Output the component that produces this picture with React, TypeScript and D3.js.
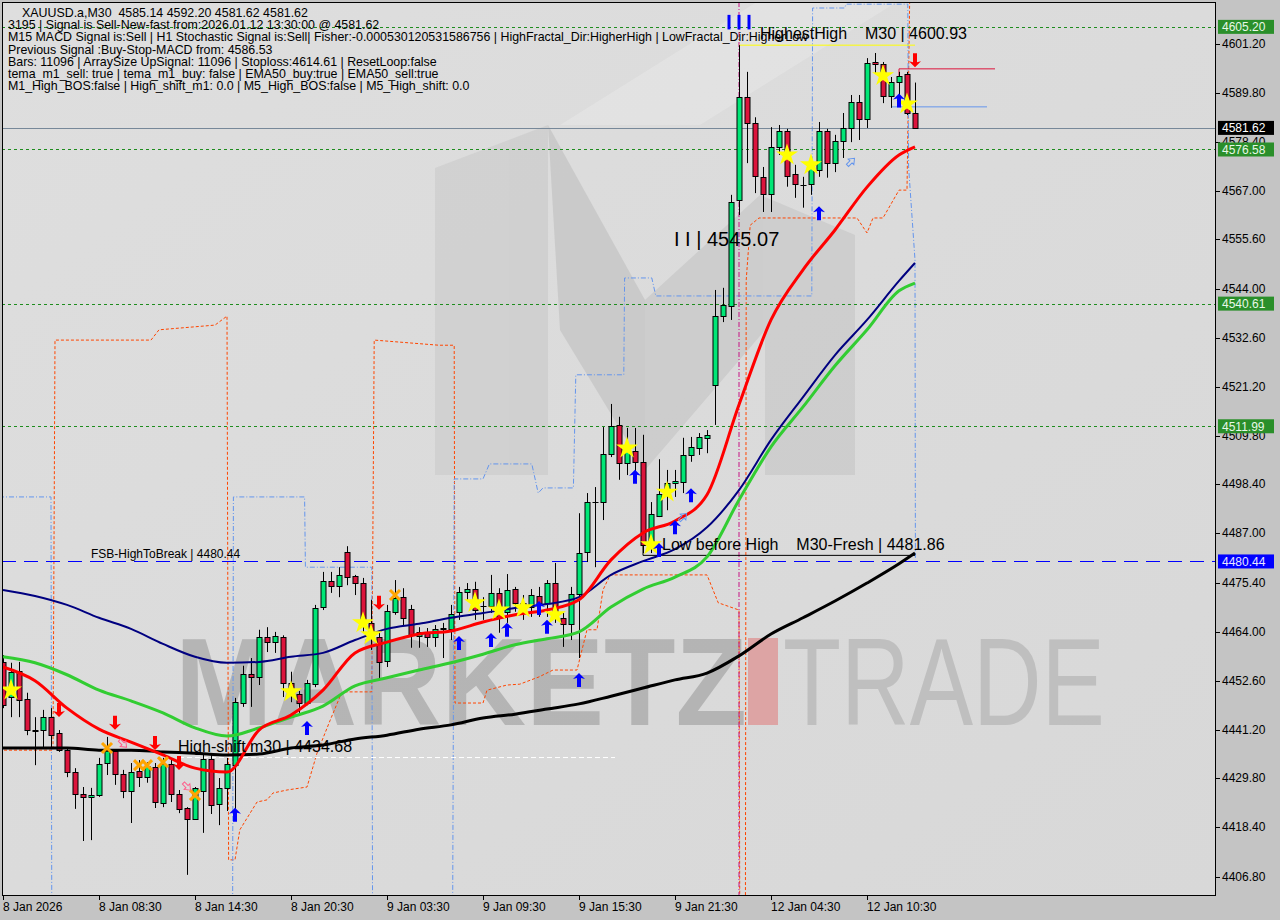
import React from 'react';
import * as d3 from 'd3';

const FONT = "'Liberation Sans', Arial, sans-serif";

// ---------- DATA ----------
const openP = [4457.0,4448.8,4454.9,4448.4,4441.1,4441.1,4444.1,4440.4,4436.4,4431.3,4426.2,4425.5,4425.9,4433.4,4436.2,4430.8,4426.9,4431.5,4430.1,4432.5,4424.1,4433.2,4426.2,4422.9,4420.3,4426.9,4434.3,4423.8,4427.6,4432.9,4447.4,4454.2,4453.5,4462.8,4461.6,4462.8,4452.1,4449.5,4447.4,4451.8,4469.8,4475.9,4474.7,4482.6,4477.0,4475.4,4466.1,4462.8,4457.2,4468.7,4472.1,4469.3,4463.1,4464.0,4462.8,4464.7,4464.7,4468.7,4473.3,4474.0,4470.0,4470.0,4473.1,4468.7,4474.0,4469.1,4469.8,4472.4,4470.7,4475.4,4467.2,4465.9,4472.8,4482.6,4494.3,4494.3,4505.5,4512.3,4503.4,4506.2,4503.7,4484.3,4491.0,4495.9,4498.7,4499.0,4505.3,4507.0,4509.3,4521.6,4537.7,4540.1,4564.8,4588.8,4582.8,4570.2,4566.2,4577.2,4580.9,4570.9,4568.3,4568.5,4571.8,4580.9,4573.4,4578.6,4581.6,4587.7,4583.7,4597.0,4596.5,4589.1,4592.3,4594.2,4585.14];
const highP = [4458.6,4456.8,4457.0,4449.8,4444.1,4445.8,4446.2,4441.1,4437.1,4432.2,4427.8,4427.6,4434.6,4439.5,4436.4,4431.8,4433.4,4434.1,4433.6,4433.4,4434.6,4434.1,4427.1,4423.1,4427.8,4435.3,4435.3,4429.9,4434.6,4448.6,4456.1,4457.9,4464.5,4465.1,4464.0,4463.2,4454.7,4450.2,4452.8,4470.3,4478.0,4478.0,4479.1,4484.0,4477.3,4476.6,4471.5,4463.8,4470.3,4476.1,4474.2,4470.3,4465.1,4464.9,4465.6,4466.1,4470.3,4474.5,4475.4,4475.7,4472.1,4477.3,4474.2,4477.5,4474.5,4472.6,4474.0,4474.5,4476.1,4480.1,4468.4,4474.5,4491.7,4496.4,4497.8,4511.8,4517.2,4514.2,4511.6,4511.6,4510.0,4494.3,4504.3,4501.8,4501.8,4509.3,4509.5,4510.4,4511.1,4543.8,4544.3,4566.0,4600.93,4594.7,4584.1,4572.5,4581.8,4582.3,4581.4,4573.0,4570.2,4574.8,4583.0,4581.4,4580.0,4585.1,4589.3,4589.3,4597.9,4599.1,4597.0,4593.5,4594.7,4594.7,4592.20];
const lowP = [4446.2,4444.1,4444.1,4439.9,4432.9,4436.9,4436.9,4436.0,4430.1,4422.7,4415.2,4415.4,4425.5,4430.6,4428.3,4425.2,4419.4,4427.8,4428.8,4422.9,4423.1,4424.3,4421.7,4407.3,4420.1,4417.1,4421.5,4418.9,4422.2,4422.0,4446.5,4446.5,4451.6,4459.3,4459.1,4448.8,4447.6,4445.1,4446.9,4451.1,4469.1,4473.1,4472.1,4474.9,4472.6,4464.0,4459.8,4452.8,4455.8,4468.0,4465.6,4460.3,4460.3,4460.5,4460.5,4457.9,4462.1,4466.8,4471.5,4466.8,4466.8,4468.4,4463.8,4466.1,4468.7,4466.8,4467.5,4467.5,4467.5,4466.1,4460.5,4462.1,4457.9,4480.3,4479.1,4490.1,4504.8,4499.5,4500.6,4501.3,4482.4,4482.4,4490.8,4492.4,4495.5,4496.4,4503.7,4505.3,4505.7,4512.3,4536.3,4536.8,4561.3,4573.4,4566.4,4562.0,4562.0,4575.3,4567.9,4565.3,4563.0,4566.0,4570.2,4570.0,4571.3,4574.6,4578.3,4578.8,4581.6,4594.4,4587.4,4586.3,4586.5,4584.6,4581.62];
const closeP = [4446.9,4454.7,4448.1,4441.1,4440.9,4444.1,4439.9,4436.4,4431.3,4426.2,4425.5,4425.9,4433.2,4436.4,4430.8,4426.9,4431.3,4430.1,4432.7,4424.3,4433.2,4426.2,4422.7,4420.3,4427.6,4434.3,4423.6,4427.6,4433.2,4447.6,4454.2,4453.5,4462.8,4461.6,4463.1,4452.1,4449.8,4447.4,4452.1,4469.6,4475.9,4474.7,4477.3,4476.8,4475.4,4466.1,4463.3,4457.0,4468.9,4471.9,4467.2,4463.3,4464.0,4462.8,4464.7,4464.9,4468.2,4473.3,4474.0,4469.1,4470.1,4473.1,4467.5,4473.8,4470.7,4470.7,4472.6,4470.7,4475.4,4467.5,4465.9,4472.8,4482.4,4494.3,4494.2,4505.5,4512.0,4503.4,4506.9,4503.7,4484.3,4491.5,4496.2,4498.7,4499.2,4505.3,4507.2,4509.5,4510.0,4537.7,4540.3,4564.3,4588.8,4582.8,4570.4,4566.2,4577.2,4580.9,4570.4,4568.5,4568.4,4573.0,4580.9,4573.4,4578.6,4581.6,4587.7,4583.7,4596.8,4596.5,4589.1,4592.3,4593.7,4585.2,4581.62];

// moving averages sampled at bar indices
const maIdx = [0,4,8,12,16,20,24,28,32,36,40,44,48,52,56,60,64,68,72,76,80,84,88,92,96,100,104,108,112,114];
const maRed = [4455.8,4452.6,4446.2,4441.3,4438.3,4435.3,4432.2,4431.3,4441.1,4444.6,4450.4,4459.1,4461.6,4463.5,4464.2,4466.3,4468.0,4469.1,4471.5,4480.8,4487.1,4489.9,4496.0,4517.0,4536.8,4548.5,4557.8,4567.8,4575.3,4577.2];
const maNavy = [4473.8,4472.4,4470.3,4467.3,4464.7,4461.2,4458.2,4456.8,4457.0,4458.2,4459.1,4462.1,4464.7,4465.9,4467.3,4468.4,4469.6,4470.5,4472.1,4477.3,4480.5,4483.3,4488.4,4497.1,4508.8,4518.8,4528.6,4536.8,4545.9,4550.1];
const maGreen = [4458.2,4456.8,4454.0,4450.4,4447.9,4445.1,4441.6,4439.7,4441.6,4444.1,4446.7,4451.4,4453.3,4455.1,4456.8,4458.8,4461.0,4462.4,4464.0,4469.8,4474.0,4476.8,4481.5,4494.8,4507.2,4516.5,4526.1,4534.5,4543.6,4545.4];
const maBlack = [4436.9,4436.9,4436.9,4436.4,4436.4,4436.0,4435.7,4435.3,4435.5,4436.9,4437.6,4439.0,4439.9,4441.3,4442.3,4443.9,4444.8,4446.0,4447.2,4449.0,4450.9,4452.8,4454.4,4458.4,4463.5,4467.3,4471.2,4475.4,4479.9,4482.4];

// channel step lines (bar index, price)
const orangeIdx = [-0.5,6.25,6.5,18.5,19.5,26.5,28,28.2,29,29.6,31.75,33,33.75,35.5,38,38.75,39.25,40.9,42.1,42.5,46.1,46.4,54.5,56.4,56.5,60,60.5,63,64.6,67,68.75,71.75,73,74.25,75,75.9,88,89.4,92,92.1,92.8,92.9,93.4,94.5,106.75,108,108.75,110,112,113,113.4];
const orangeVal = [4436.4,4436.4,4532.1,4532.1,4534.5,4535.6,4537.7,4410.8,4410.8,4417.8,4424.3,4424.8,4426.4,4427.1,4427.8,4432.5,4435.7,4443.4,4448.8,4450.0,4450.0,4532.1,4530.9,4530.9,4447.4,4447.4,4450.4,4451.6,4451.8,4453.5,4455.1,4455.1,4464.5,4464.5,4473.8,4477.3,4477.3,4470.8,4469.1,4395,4395,4546.1,4558.9,4560.6,4560.6,4557.1,4560.6,4560.6,4567.1,4567.1,4620];
const blueIdx = [-0.5,6.0,6.1,28.7,28.8,37.7,37.8,46.1,46.2,56.2,56.4,60.0,60.8,66.1,66.9,67.5,71.3,71.6,77.6,77.7,81.1,81.6,101.1,101.2,105.2,105.4,113.1,113.2,114,114.05];
const blueVal = [4495.5,4495.5,4395,4395,4495.5,4495.5,4479.1,4479.1,4395,4395,4499.7,4499.7,4503.2,4503.2,4496.4,4497.6,4497.6,4524.0,4524.0,4546.6,4546.6,4542.4,4542.4,4609.6,4609.6,4610.5,4610.5,4572.5,4550.8,4480.8];

// levels
const greenLevels = [4605.20, 4576.58, 4540.61, 4511.99];
const fsbLevel = 4480.44;
const bidPrice = 4581.62;
const highShift = 4434.68;
const lowBeforeHigh = 4481.86;
const highestHigh = 4600.93;
const lowLabel = 4545.07;
const prevSignal = 4586.53;
const redLevel = 4595.4;

// markers (bar index, price)
const starIdx = [1,36,45,46,59,62,65,69,78,81,83,98,101,110,113];
const starVal = [4450.4,4450.0,4466.1,4463.3,4470.8,4469.1,4469.6,4468.0,4506.9,4484.3,4496.6,4575.3,4573.0,4593.8,4587.2];
const upIdx = [29,38,57,61,63,67,68,72,79,82,84,86,102,112];
const upVal = [4421.3,4441.6,4461.4,4462.1,4464.5,4469.6,4465.2,4452.8,4500.2,4483.1,4488.4,4495.9,4561.7,4588.0];
const downIdx = [7,14,19,22,47,114];
const downVal = [4445.8,4442.8,4438.1,4433.4,4470.8,4597.4];
const crossIdx = [13,17,18,20,24,49];
const crossVal = [4436.9,4432.9,4432.9,4433.6,4425.9,4472.6];
const hollowDnIdx = [15,23];
const hollowDnVal = [4437.9,4427.9];
const hollowUpIdx = [85,106];
const hollowUpVal = [4490.8,4573.7];

const priceTicks = [4601.2,4589.8,4578.4,4567.0,4555.6,4544.0,4532.6,4521.2,4509.8,4498.4,4487.0,4475.4,4464.0,4452.6,4441.2,4429.8,4418.4,4406.8];
const timeLabels = ['8 Jan 2026','8 Jan 08:30','8 Jan 14:30','8 Jan 20:30','9 Jan 03:30','9 Jan 09:30','9 Jan 15:30','9 Jan 21:30','12 Jan 04:30','12 Jan 10:30'];
const timeIdx = [0,12,24,36,48,60,72,84,96,108];

const infoLines = [
  'XAUUSD.a,M30  4585.14 4592.20 4581.62 4581.62',
  '3195 | Signal is Sell-New-fast from:2026.01.12 13:30:00 @ 4581.62',
  'M15 MACD Signal is:Sell | H1 Stochastic Signal is:Sell| Fisher:-0.000530120531586756 | HighFractal_Dir:HigherHigh | LowFractal_Dir:HigherLow',
  'Previous Signal :Buy-Stop-MACD from: 4586.53',
  'Bars: 11096 | ArraySize UpSignal: 11096 | Stoploss:4614.61 | ResetLoop:false',
  'tema_m1_sell: true | tema_m1_buy: false | EMA50_buy:true | EMA50_sell:true',
  'M1_High_BOS:false | High_shift_m1: 0.0 | M5_High_BOS:false | M5_High_shift: 0.0',
];

// ---------- CHART ----------
const W = 1280, H = 920;
const PL = 2, PT = 2, PR = 1216, PB = 896;
const pre = { whiteSpace: 'pre' as const };

export default function App() {
  const x = d3.scaleLinear().domain([0, 114]).range([3, 915]);
  const y = d3.scaleLinear().domain([4406.8, 4601.2]).range([877, 44]);

  const maLine = (vals: number[]) =>
    d3.line<number>().x((_, i) => x(maIdx[i])).y((v) => y(v)).curve(d3.curveMonotoneX)(vals) || '';
  const stepLine = (idx: number[], vals: number[]) =>
    d3.line<number>().x((_, i) => x(idx[i])).y((v) => y(v))(vals) || '';

  const starPath = d3.symbol().type(d3.symbolStar).size(150)() || '';
  const upArrow = 'M0,-7 L6,-1 L2,-2 L2,7 L-2,7 L-2,-2 L-6,-1 Z';
  const dnArrow = 'M0,7 L6,1 L2,2 L2,-7 L-2,-7 L-2,2 L-6,1 Z';
  const hollow = 'M0,-5 L4,0 L1.5,0 L1.5,5 L-1.5,5 L-1.5,0 L-4,0 Z';
  const hy = (p: number) => Math.round(y(p)) + 0.5;

  return (
    <svg width={W} height={H} style={{ position: 'absolute', left: 0, top: 0, fontFamily: FONT }}>
      <defs>
        <clipPath id="plot"><rect x={PL} y={PT} width={PR - PL} height={PB - PT} /></clipPath>
        <linearGradient id="bg" x1="0" y1="0" x2="1" y2="1">
          <stop offset="0" stopColor="#dedede" />
          <stop offset="1" stopColor="#d8d8d8" />
        </linearGradient>
      </defs>
      <rect x={0} y={0} width={W} height={H} fill="#c4c4c4" />
      <rect x={PL} y={PT} width={PR - PL} height={PB - PT} fill="url(#bg)" />

      <g clipPath="url(#plot)">
        {/* watermark logo */}
        <g opacity={0.55}>
          <polygon points="435,168 548,125 548,475 435,475" fill="#c8c8c8" />
          <polygon points="548,125 645,300 645,470 560,330" fill="#bdbdbd" />
          <polygon points="645,300 760,195 855,235 855,475 765,475 765,330 645,470" fill="#c2c2c2" />
        </g>
        <polygon points="560,125 700,125 900,0 760,0" fill="#ffffff" opacity={0.18} />
        <text x={175} y={725} fontSize={125} fontWeight="bold" fill="#909090" opacity={0.5}
          textLength={572} lengthAdjust="spacingAndGlyphs">MARKETZ</text>
        <rect x={748} y={638} width={30} height={87} fill="#e07878" opacity={0.55} />
        <text x={783} y={725} fontSize={125} fill="#a0a0a0" opacity={0.45}
          textLength={322} lengthAdjust="spacingAndGlyphs">TRADE</text>

        {/* channels */}
        <path d={stepLine(orangeIdx, orangeVal)} fill="none" stroke="#ff4500" strokeWidth={1} strokeDasharray="3,2" />
        <path d={stepLine(blueIdx, blueVal)} fill="none" stroke="#6495ed" strokeWidth={1} strokeDasharray="5,2,1,2" />
        <line x1={x(92)} x2={x(92)} y1={PT} y2={PB} stroke="#c71585" strokeWidth={1} strokeDasharray="5,2,1,2" />

        {/* horizontal levels */}
        {greenLevels.map((p) => (
          <line key={p} x1={PL} x2={PR} y1={hy(p)} y2={hy(p)} stroke="#1e8c1e" strokeDasharray="3,3" />
        ))}
        <line x1={PL} x2={PR} y1={hy(bidPrice)} y2={hy(bidPrice)} stroke="#778899" />
        <line x1={PL} x2={PR} y1={hy(fsbLevel)} y2={hy(fsbLevel)} stroke="#0000ff" strokeDasharray="14,8" />
        <line x1={x(22)} x2={x(76.5)} y1={y(highShift)} y2={y(highShift)} stroke="#ffffff" strokeDasharray="5,3" />
        <line x1={x(80)} x2={x(114)} y1={y(lowBeforeHigh)} y2={y(lowBeforeHigh)} stroke="#000000" />
        <line x1={x(80)} x2={x(80)} y1={y(lowBeforeHigh) - 12} y2={y(lowBeforeHigh)} stroke="#000000" />
        <line x1={x(92)} x2={x(114)} y1={y(highestHigh)} y2={y(highestHigh)} stroke="#ffff00" />
        <line x1={x(112)} x2={x(124)} y1={y(redLevel)} y2={y(redLevel)} stroke="#dc143c" />
        <line x1={x(112)} x2={x(112)} y1={y(redLevel)} y2={y(redLevel) + 10} stroke="#dc143c" />
        <line x1={x(111)} x2={x(123)} y1={y(prevSignal)} y2={y(prevSignal)} stroke="#6495ed" />

        {/* candles */}
        {openP.map((o, i) => {
          const c = closeP[i];
          const cx = Math.round(x(i)) + 0.5;
          const top = Math.round(y(Math.max(o, c)));
          const bot = Math.round(y(Math.min(o, c)));
          const up = c >= o;
          return (
            <g key={i}>
              <line x1={cx} x2={cx} y1={y(highP[i])} y2={y(lowP[i])} stroke="#000" strokeWidth={1} />
              {bot - top < 1 ? (
                <line x1={cx - 3} x2={cx + 3} y1={top + 0.5} y2={top + 0.5} stroke="#000" />
              ) : (
                <rect x={cx - 2.5} y={top + 0.5} width={5} height={bot - top} fill={up ? '#00e676' : '#dc143c'} stroke="#000" strokeWidth={1} />
              )}
            </g>
          );
        })}

        {/* moving averages */}
        <path d={maLine(maBlack)} fill="none" stroke="#000000" strokeWidth={3} />
        <path d={maLine(maGreen)} fill="none" stroke="#32cd32" strokeWidth={3} />
        <path d={maLine(maNavy)} fill="none" stroke="#000080" strokeWidth={2} />
        <path d={maLine(maRed)} fill="none" stroke="#ff0000" strokeWidth={3} />

        {/* markers */}
        {starIdx.map((b, i) => (
          <path key={'s' + i} d={starPath} transform={`translate(${x(b)},${y(starVal[i])})`} fill="#ffff00" />
        ))}
        {upIdx.map((b, i) => (
          <path key={'u' + i} d={upArrow} transform={`translate(${x(b)},${y(upVal[i])})`} fill="#0000ff" />
        ))}
        {downIdx.map((b, i) => (
          <path key={'d' + i} d={dnArrow} transform={`translate(${x(b)},${y(downVal[i])})`} fill="#ff0000" />
        ))}
        {crossIdx.map((b, i) => (
          <g key={'c' + i} transform={`translate(${x(b)},${y(crossVal[i])})`} stroke="#ffa500" strokeWidth={3}>
            <line x1={-5} y1={-5} x2={5} y2={5} />
            <line x1={-5} y1={5} x2={5} y2={-5} />
          </g>
        ))}
        {hollowDnIdx.map((b, i) => (
          <path key={'hd' + i} d={hollow} transform={`translate(${x(b)},${y(hollowDnVal[i])}) rotate(135)`} fill="none" stroke="#ff5c8a" strokeWidth={1} />
        ))}
        {hollowUpIdx.map((b, i) => (
          <path key={'hu' + i} d={hollow} transform={`translate(${x(b)},${y(hollowUpVal[i])}) rotate(45)`} fill="none" stroke="#6495ed" strokeWidth={1} />
        ))}
        {[-10, 0, 10].map((dx) => (
          <line key={dx} x1={x(92) + dx} x2={x(92) + dx} y1={y(4608.0)} y2={y(4604.6)} stroke="#0000ff" strokeWidth={3} />
        ))}

        {/* object labels */}
        <text x={x(92) + 21} y={y(highestHigh) - 6} fontSize={16} fill="#000" style={pre}>HighestHigh    M30 | 4600.93</text>
        <text x={x(84) - 1} y={y(lowLabel) - 39} fontSize={20} fill="#000" style={pre}>I I | 4545.07</text>
        <text x={x(82) + 3} y={y(lowBeforeHigh) - 5} fontSize={16} fill="#000" style={pre}>Low before High    M30-Fresh | 4481.86</text>
        <text x={x(11)} y={y(fsbLevel) - 3} fontSize={12} fill="#000">FSB-HighToBreak | 4480.44</text>
        <text x={x(22) - 1} y={y(highShift) - 6} fontSize={16} fill="#000">High-shift m30 | 4434.68</text>

        {/* info text */}
        {infoLines.map((t, i) => (
          <text key={i} x={i === 0 ? 22 : 8} y={17 + i * 12.2} fontSize={12.4} fill="#000" style={pre}>{t}</text>
        ))}
      </g>

      {/* frame */}
      <rect x={PL + 0.5} y={PT + 0.5} width={PR - PL - 1} height={PB - PT - 1} fill="none" stroke="#000" />

      {/* price axis */}
      {priceTicks.map((p) => (
        <g key={p}>
          <line x1={PR} x2={PR + 4} y1={hy(p)} y2={hy(p)} stroke="#000" />
          <text x={1222} y={y(p) + 4} fontSize={12} fill="#000">{p.toFixed(2)}</text>
        </g>
      ))}
      {greenLevels.map((p) => (
        <g key={'gl' + p}>
          <rect x={1218} y={y(p) - 7} width={56} height={14} fill="#2a8f2a" />
          <text x={1222} y={y(p) + 4.5} fontSize={12} fill="#e8f8e8">{p.toFixed(2)}</text>
        </g>
      ))}
      <rect x={1218} y={y(bidPrice) - 7} width={56} height={14} fill="#000" />
      <text x={1222} y={y(bidPrice) + 4.5} fontSize={12} fill="#fff">{bidPrice.toFixed(2)}</text>
      <rect x={1218} y={y(fsbLevel) - 7} width={56} height={14} fill="#0000ff" />
      <text x={1222} y={y(fsbLevel) + 4.5} fontSize={12} fill="#e8e8ff">{fsbLevel.toFixed(2)}</text>

      {/* time axis */}
      {timeIdx.map((b, i) => (
        <g key={b}>
          <line x1={Math.round(x(b)) + 0.5} x2={Math.round(x(b)) + 0.5} y1={PB} y2={PB + 4} stroke="#000" />
          <text x={x(b)} y={911} fontSize={12} fill="#000">{timeLabels[i]}</text>
        </g>
      ))}
    </svg>
  );
}
